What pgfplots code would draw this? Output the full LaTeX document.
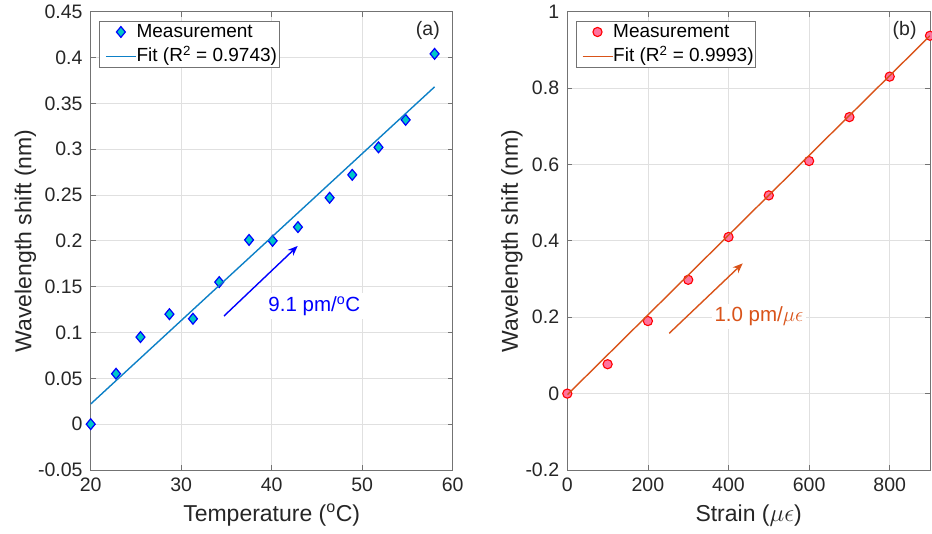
\documentclass[border=0pt]{standalone}
\usepackage{fontspec}
\setmainfont{Liberation Sans}
\usepackage{pgfplots}
\pgfplotsset{compat=1.18}
\usetikzlibrary{arrows.meta}

\definecolor{mblue}{rgb}{0.05,0.5,0.78}
\definecolor{mcyan}{rgb}{0,0.78,0.78}
\definecolor{morange}{rgb}{0.85,0.325,0.098}
\definecolor{mpink}{rgb}{1,0.45,0.62}

\pgfplotsset{
  matstyle/.style={
    scale only axis, height=458.3pt,
    axis line style={black!55, line width=0.7pt},
    tick align=inside, major tick length=5pt,
    tick style={black!55, line width=0.7pt},
    grid=major, grid style={black!12, line width=0.7pt},
    /pgf/number format/assume math mode=true,
    scaled ticks=false,
    tick label style={font=\fontsize{19.5}{22}\selectfont, text=black!85},
    xticklabel style={inner sep=0pt, anchor=north, yshift=-8pt},
    yticklabel style={inner sep=0pt, anchor=east, xshift=-8pt,
      /pgf/number format/fixed, /pgf/number format/precision=2},
    label style={font=\fontsize{23}{26}\selectfont, text=black!85},
    xlabel style={at={(axis description cs:0.5,0)}, anchor=base, yshift=-51.5pt, inner sep=0pt},
    clip mode=individual,
    legend cell align=left,
    legend style={at={(0,1)}, anchor=north west, xshift=8.3pt, yshift=-9.3pt,
      draw=black!55, fill=white,
      font=\fontsize{19}{22}\selectfont,
      inner xsep=2pt, inner ysep=1.3pt, row sep=5.3pt,
      nodes={inner sep=0pt, text height=15pt, text depth=4pt}},
    legend image code/.code={\path (0pt,0pt); \draw[mark repeat=2,mark phase=2,#1,line width=1.4pt] plot coordinates {(4pt,0pt)(19pt,0pt)(34pt,0pt)};},
  }
}

\begin{document}
\begin{tikzpicture}
\useasboundingbox (0,0) rectangle (932pt,534pt);

\begin{axis}[matstyle, at={(90.7pt,64pt)}, anchor=south west, width=362pt,
  xmin=20, xmax=60, ymin=-0.05, ymax=0.45,
  xtick={20,30,40,50,60},
  ytick={-0.05,0,0.05,0.1,0.15,0.2,0.25,0.3,0.35,0.4,0.45},
  xlabel={Temperature (\textsuperscript{o}C)},
  ylabel={Wavelength shift (nm)},
  ylabel style={at={(axis description cs:-0.164,0.5)}, anchor=base, inner sep=0pt}]
\addplot[only marks, mark=diamond*, mark size=5.4pt,
  mark options={draw=blue, fill=mcyan, line width=1.2pt, xscale=1.1}]
  coordinates {(20,0) (22.8,0.055) (25.5,0.095) (28.7,0.12) (31.3,0.115) (34.2,0.155)
  (37.5,0.201) (40.1,0.2) (42.9,0.215) (46.4,0.247) (48.9,0.272) (51.8,0.302)
  (54.8,0.332) (58,0.404)};
\addlegendentry{Measurement}
\addplot[mblue, line width=1.4pt] coordinates {(20,0.022) (58,0.368)};
\addlegendentry{Fit (R\textsuperscript{2} = 0.9743)}
\node[text=blue, fill=white, inner sep=3pt, anchor=base west, xshift=-3pt,
  font=\fontsize{20.5}{24}\selectfont] at (axis cs:39.62,0.1227) {9.1 pm/\textsuperscript{o}C};
\draw[blue, line width=1.4pt, -{Stealth[length=10pt,width=8pt]}] (axis cs:34.73,0.118) -- (axis cs:42.87,0.1944);
\node[anchor=base east, inner sep=0pt, xshift=-12.7pt, yshift=-24.3pt,
  font=\fontsize{19.5}{22}\selectfont, text=black!85] at (rel axis cs:1,1) {(a)};
\end{axis}

\begin{axis}[matstyle, at={(567.3pt,64pt)}, anchor=south west, width=362.7pt,
  xmin=0, xmax=900, ymin=-0.2, ymax=1,
  xtick={0,200,400,600,800},
  ytick={-0.2,0,0.2,0.4,0.6,0.8,1},
  xlabel={Strain ($\mu\epsilon$)},
  ylabel={Wavelength shift (nm)},
  ylabel style={at={(axis description cs:-0.136,0.5)}, anchor=base, inner sep=0pt}]
\addplot[only marks, mark=*, mark size=4.6pt,
  mark options={draw=red, fill=mpink, line width=1.1pt}]
  coordinates {(0,0) (100,0.077) (200,0.19) (300,0.298) (400,0.41) (500,0.519)
  (600,0.609) (700,0.724) (800,0.830) (900,0.937)};
\addlegendentry{Measurement}
\addplot[morange, line width=1.4pt] coordinates {(0,-0.003) (900,0.937)};
\addlegendentry{Fit (R\textsuperscript{2} = 0.9993)}
\node[text=morange, fill=white, inner sep=3pt, anchor=base west, xshift=-3pt,
  font=\fontsize{20.5}{24}\selectfont] at (axis cs:364.8,0.188) {1.0 pm/$\mu\epsilon$};
\draw[morange, line width=1.4pt, -{Stealth[length=10pt,width=8pt]}] (axis cs:253,0.158) -- (axis cs:435.2,0.341);
\node[anchor=base east, inner sep=0pt, xshift=-13.3pt, yshift=-24.3pt,
  font=\fontsize{19.5}{22}\selectfont, text=black!85] at (rel axis cs:1,1) {(b)};
\end{axis}
\end{tikzpicture}
\end{document}
